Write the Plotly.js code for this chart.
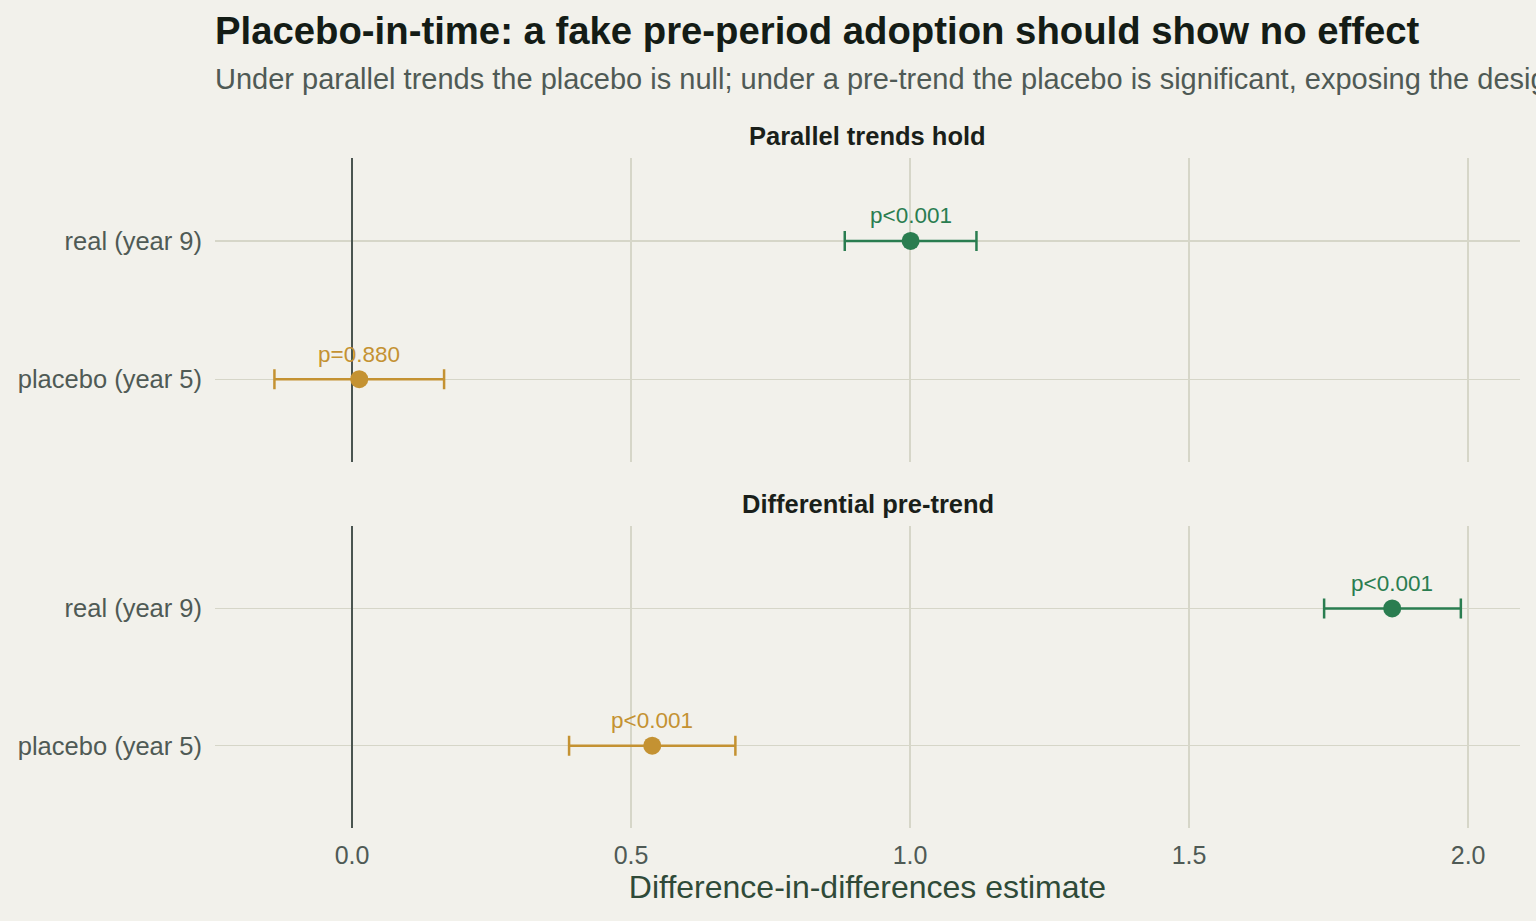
<!DOCTYPE html>
<html>
<head>
<meta charset="utf-8">
<script src="https://cdn.plot.ly/plotly-3.0.1.min.js"></script>
<style>
  html, body { margin: 0; padding: 0; background: #f2f1eb; }
  #chart { width: 1536px; height: 921px; }
</style>
</head>
<body>
<div id="chart"></div>
<script>
// Estimates and 95% intervals for each scenario
const categories = ["placebo (year 5)", "real (year 9)"];
const panelTitles = ["Parallel trends hold", "Differential pre-trend"];

const parallelEst = [0.013, 1.001];
const parallelLow = [-0.139, 0.883];
const parallelHigh = [0.165, 1.119];
const parallelP = ["p=0.880", "p<0.001"];

const pretrendEst = [0.538, 1.864];
const pretrendLow = [0.389, 1.742];
const pretrendHigh = [0.687, 1.987];
const pretrendP = ["p<0.001", "p<0.001"];

const xTicks = [0.0, 0.5, 1.0, 1.5, 2.0];
const xTickText = ["0.0", "0.5", "1.0", "1.5", "2.0"];

const colors = ["#c49232", "#2a7d50"];
const FONT = "Liberation Sans, Arial, Helvetica, sans-serif";

function panelTraces(est, low, high, xa, ya) {
  return categories.map((cat, i) => ({
    type: "scatter",
    mode: "markers",
    x: [est[i]],
    y: [cat],
    xaxis: xa,
    yaxis: ya,
    marker: { color: colors[i], size: 18 },
    error_x: {
      type: "data",
      symmetric: false,
      array: [high[i] - est[i]],
      arrayminus: [est[i] - low[i]],
      color: colors[i],
      thickness: 2.5,
      width: 10
    },
    showlegend: false,
    hoverinfo: "x+y"
  }));
}

const data = [
  ...panelTraces(parallelEst, parallelLow, parallelHigh, "x2", "y2"),
  ...panelTraces(pretrendEst, pretrendLow, pretrendHigh, "x", "y")
];

function pAnnotations(est, labels, xa, ya) {
  return categories.map((cat, i) => ({
    x: est[i], y: cat, xref: xa, yref: ya,
    text: labels[i], showarrow: false,
    yshift: 25,
    font: { family: FONT, size: 22.5, color: colors[i] }
  }));
}

const xRange = [-0.2455, 2.093];
const gridColor = "#d6d6c8";

const baseX = {
  range: xRange,
  tickvals: xTicks,
  ticktext: xTickText,
  showgrid: true,
  gridcolor: gridColor,
  gridwidth: 1.2,
  zeroline: true,
  zerolinecolor: "#4a5550",
  zerolinewidth: 1.6,
  showline: false,
  ticks: "",
  tickfont: { family: FONT, size: 25, color: "#4f5a55" },
  fixedrange: true
};
const baseY = {
  type: "category",
  categoryorder: "array",
  categoryarray: categories,
  range: [-0.6, 1.6],
  showgrid: true,
  gridcolor: gridColor,
  gridwidth: 1.2,
  zeroline: false,
  showline: false,
  ticks: "",
  ticklabelstandoff: 12,
  tickfont: { family: FONT, size: 25.5, color: "#4f5a55" },
  fixedrange: true
};

const layout = {
  width: 1536,
  height: 921,
  paper_bgcolor: "#f2f1eb",
  plot_bgcolor: "#f2f1eb",
  margin: { l: 215, r: 16, t: 158, b: 93 },
  font: { family: FONT },
  xaxis: Object.assign({}, baseX, {
    anchor: "y",
    ticklabelstandoff: 10,
    automargin: false,
    title: {
      text: "Difference-in-differences estimate",
      font: { family: FONT, size: 32, color: "#2f4a38" },
      standoff: 4
    }
  }),
  yaxis: Object.assign({}, baseY, { domain: [0, 0.4507], anchor: "x", automargin: false }),
  xaxis2: Object.assign({}, baseX, { anchor: "y2", matches: "x", showticklabels: false }),
  yaxis2: Object.assign({}, baseY, { domain: [0.546, 1], anchor: "x2", automargin: false }),
  annotations: [
    {
      text: "<b>Placebo-in-time: a fake pre-period adoption should show no effect</b>",
      xref: "paper", yref: "paper", x: 0, y: 1, xanchor: "left", yanchor: "middle",
      xshift: -2, yshift: 158 - 30, showarrow: false,
      font: { family: FONT, size: 38.3, color: "#141c16" }
    },
    {
      text: "Under parallel trends the placebo is null; under a pre-trend the placebo is significant, exposing the design",
      xref: "paper", yref: "paper", x: 0, y: 1, xanchor: "left", yanchor: "middle",
      xshift: -2, yshift: 158 - 79, showarrow: false,
      font: { family: FONT, size: 29, color: "#4f5a55" }
    },
    {
      text: "<b>" + panelTitles[0] + "</b>",
      xref: "paper", yref: "paper", x: 0.5, y: 1, xanchor: "center", yanchor: "middle",
      yshift: 22, showarrow: false,
      font: { family: FONT, size: 25.5, color: "#1a1f1a" }
    },
    {
      text: "<b>" + panelTitles[1] + "</b>",
      xref: "paper", yref: "paper", x: 0.5, y: 0.4507, xanchor: "center", yanchor: "middle",
      yshift: 22, showarrow: false,
      font: { family: FONT, size: 25.5, color: "#1a1f1a" }
    },
    ...pAnnotations(parallelEst, parallelP, "x2", "y2"),
    ...pAnnotations(pretrendEst, pretrendP, "x", "y")
  ]
};

Plotly.newPlot("chart", data, layout, { displayModeBar: false, staticPlot: true });
</script>
</body>
</html>
